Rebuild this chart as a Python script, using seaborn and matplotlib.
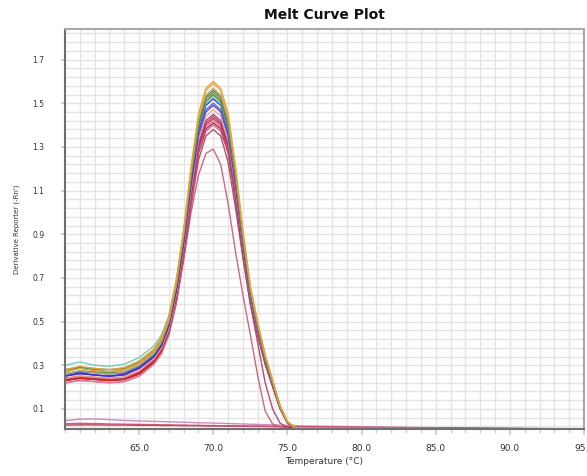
import numpy as np
import pandas as pd
import matplotlib
matplotlib.use("Agg")
import matplotlib.pyplot as plt
import matplotlib.ticker as mticker
import seaborn as sns

# temperature points (deg C)
temperature = [60, 61, 62, 63, 64, 65, 66, 66.5, 67, 67.5, 68, 68.5, 69, 69.5, 70,
               70.5, 71, 71.5, 72, 72.5, 73, 73.5, 74, 74.5, 75, 75.5, 76, 80, 85, 90, 95]

# derivative reporter per well
well_a01 = [0.27, 0.285, 0.275, 0.27, 0.28, 0.31, 0.366, 0.419, 0.515, 0.685, 0.919, 1.206, 1.451, 1.568, 1.60,
            1.568, 1.453, 1.211, 0.916, 0.663, 0.495, 0.347, 0.232, 0.116, 0.042, 0.016, 0.012, 0.010, 0.010, 0.008, 0.006]
well_a02 = [0.28, 0.295, 0.285, 0.28, 0.29, 0.32, 0.374, 0.427, 0.521, 0.689, 0.919, 1.202, 1.443, 1.559, 1.59,
            1.559, 1.443, 1.203, 0.910, 0.659, 0.492, 0.345, 0.230, 0.115, 0.041, 0.015, 0.012, 0.011, 0.010, 0.008, 0.006]
well_a03 = [0.26, 0.275, 0.265, 0.26, 0.27, 0.30, 0.354, 0.407, 0.501, 0.669, 0.899, 1.182, 1.423, 1.539, 1.57,
            1.539, 1.425, 1.188, 0.899, 0.651, 0.486, 0.341, 0.227, 0.114, 0.040, 0.015, 0.012, 0.010, 0.009, 0.008, 0.006]
well_a04 = [0.27, 0.29, 0.28, 0.27, 0.28, 0.31, 0.363, 0.414, 0.507, 0.672, 0.900, 1.178, 1.416, 1.529, 1.56,
            1.529, 1.416, 1.180, 0.893, 0.646, 0.482, 0.339, 0.226, 0.113, 0.041, 0.016, 0.012, 0.010, 0.010, 0.008, 0.006]
well_a05 = [0.28, 0.29, 0.285, 0.28, 0.285, 0.315, 0.371, 0.422, 0.514, 0.676, 0.900, 1.174, 1.408, 1.520, 1.55,
            1.519, 1.407, 1.173, 0.887, 0.642, 0.479, 0.337, 0.224, 0.112, 0.040, 0.015, 0.012, 0.011, 0.010, 0.008, 0.006]
well_a06 = [0.26, 0.275, 0.27, 0.265, 0.27, 0.30, 0.352, 0.403, 0.496, 0.659, 0.885, 1.161, 1.397, 1.509, 1.54,
            1.509, 1.398, 1.165, 0.881, 0.638, 0.476, 0.334, 0.223, 0.111, 0.039, 0.015, 0.012, 0.010, 0.009, 0.008, 0.006]
well_b01 = [0.30, 0.315, 0.30, 0.295, 0.305, 0.335, 0.389, 0.438, 0.526, 0.684, 0.900, 1.166, 1.392, 1.500, 1.53,
            1.500, 1.389, 1.158, 0.876, 0.634, 0.473, 0.332, 0.221, 0.111, 0.041, 0.016, 0.013, 0.011, 0.010, 0.008, 0.006]
well_b02 = [0.25, 0.265, 0.255, 0.25, 0.26, 0.29, 0.341, 0.392, 0.484, 0.646, 0.870, 1.144, 1.378, 1.490, 1.52,
            1.49, 1.38, 1.15, 0.87, 0.63, 0.47, 0.33, 0.22, 0.11, 0.039, 0.015, 0.012, 0.010, 0.010, 0.008, 0.006]
well_b03 = [0.26, 0.27, 0.265, 0.26, 0.265, 0.295, 0.349, 0.399, 0.488, 0.647, 0.865, 1.133, 1.361, 1.470, 1.50,
            1.470, 1.362, 1.135, 0.859, 0.622, 0.464, 0.326, 0.217, 0.109, 0.038, 0.015, 0.012, 0.010, 0.009, 0.008, 0.006]
well_b04 = [0.25, 0.26, 0.255, 0.25, 0.255, 0.285, 0.339, 0.389, 0.478, 0.637, 0.855, 1.123, 1.351, 1.460, 1.49,
            1.460, 1.352, 1.127, 0.853, 0.617, 0.461, 0.323, 0.216, 0.108, 0.038, 0.015, 0.012, 0.010, 0.009, 0.008, 0.006]
well_b05 = [0.24, 0.25, 0.245, 0.24, 0.245, 0.275, 0.329, 0.378, 0.466, 0.624, 0.840, 1.106, 1.332, 1.440, 1.47,
            1.441, 1.334, 1.112, 0.841, 0.609, 0.454, 0.319, 0.213, 0.106, 0.037, 0.015, 0.012, 0.010, 0.009, 0.008, 0.006]
well_b06 = [0.25, 0.265, 0.255, 0.25, 0.255, 0.285, 0.336, 0.384, 0.471, 0.624, 0.836, 1.095, 1.316, 1.421, 1.45,
            1.421, 1.317, 1.097, 0.830, 0.601, 0.448, 0.315, 0.210, 0.105, 0.037, 0.015, 0.012, 0.010, 0.009, 0.008, 0.006]
well_c01 = [0.23, 0.24, 0.235, 0.23, 0.235, 0.26, 0.317, 0.366, 0.453, 0.608, 0.820, 1.082, 1.304, 1.411, 1.44,
            1.411, 1.307, 1.089, 0.824, 0.597, 0.445, 0.313, 0.208, 0.104, 0.037, 0.015, 0.012, 0.010, 0.009, 0.008, 0.006]
well_c02 = [0.24, 0.25, 0.245, 0.24, 0.245, 0.27, 0.326, 0.373, 0.459, 0.611, 0.821, 1.078, 1.297, 1.401, 1.43,
            1.402, 1.299, 1.082, 0.819, 0.593, 0.442, 0.311, 0.207, 0.104, 0.036, 0.015, 0.012, 0.010, 0.009, 0.008, 0.006]
well_c03 = [0.22, 0.23, 0.225, 0.22, 0.225, 0.25, 0.306, 0.354, 0.441, 0.594, 0.806, 1.065, 1.286, 1.391, 1.42,
            1.392, 1.289, 1.074, 0.813, 0.588, 0.439, 0.308, 0.205, 0.103, 0.036, 0.015, 0.012, 0.010, 0.009, 0.008, 0.006]
well_c04 = [0.23, 0.24, 0.235, 0.23, 0.235, 0.26, 0.315, 0.362, 0.447, 0.598, 0.806, 1.061, 1.278, 1.382, 1.41,
            1.383, 1.281, 1.067, 0.807, 0.585, 0.436, 0.306, 0.204, 0.102, 0.036, 0.015, 0.012, 0.010, 0.009, 0.008, 0.006]
well_c05 = [0.22, 0.23, 0.225, 0.22, 0.225, 0.25, 0.305, 0.352, 0.437, 0.588, 0.796, 1.051, 1.268, 1.372, 1.40,
            1.372, 1.271, 1.059, 0.801, 0.580, 0.433, 0.304, 0.203, 0.101, 0.036, 0.015, 0.012, 0.010, 0.009, 0.008, 0.006]
well_c06 = [0.23, 0.24, 0.235, 0.23, 0.235, 0.26, 0.31, 0.36, 0.44, 0.58, 0.78, 1.00, 1.17, 1.27, 1.29,
            1.22, 1.04, 0.82, 0.62, 0.44, 0.25, 0.09, 0.03, 0.018, 0.014, 0.012, 0.011, 0.010, 0.009, 0.008, 0.006]
well_d01 = [0.235, 0.245, 0.24, 0.235, 0.24, 0.265, 0.32, 0.365, 0.45, 0.59, 0.79, 1.03, 1.24, 1.35, 1.38,
            1.35, 1.23, 1.02, 0.79, 0.58, 0.40, 0.22, 0.10, 0.035, 0.015, 0.012, 0.011, 0.010, 0.009, 0.008, 0.006]
# no-template controls
well_d02 = [0.046, 0.053, 0.054, 0.051, 0.047, 0.045, 0.043, 0.042, 0.041, 0.040, 0.039, 0.038, 0.036, 0.036, 0.035,
            0.034, 0.033, 0.032, 0.031, 0.030, 0.029, 0.028, 0.027, 0.026, 0.025, 0.024, 0.022, 0.018, 0.014, 0.011, 0.008]
well_d03 = [0.026, 0.027, 0.027, 0.026, 0.026, 0.025, 0.025, 0.024, 0.024, 0.024, 0.023, 0.023, 0.023, 0.022, 0.022,
            0.022, 0.021, 0.021, 0.021, 0.020, 0.020, 0.020, 0.019, 0.019, 0.018, 0.018, 0.017, 0.015, 0.012, 0.010, 0.008]
well_d04 = [0.032, 0.034, 0.033, 0.031, 0.030, 0.029, 0.028, 0.027, 0.027, 0.026, 0.026, 0.025, 0.025, 0.024, 0.024,
            0.023, 0.023, 0.022, 0.022, 0.021, 0.021, 0.020, 0.020, 0.019, 0.019, 0.018, 0.018, 0.016, 0.013, 0.011, 0.009]

wells = {
    "D02": (well_d02, "#c77dbb"), "D03": (well_d03, "#b0304a"), "D04": (well_d04, "#d04a6a"),
    "C06": (well_c06, "#c8587a"), "D01": (well_d01, "#b03a5a"),
    "C05": (well_c05, "#d35d7b"), "C04": (well_c04, "#8b1c3c"), "C03": (well_c03, "#e8739a"),
    "C02": (well_c02, "#b5284f"), "C01": (well_c01, "#d62728"), "B06": (well_b06, "#8e44ad"),
    "B05": (well_b05, "#f4a08a"), "B04": (well_b04, "#6a3d9a"), "B03": (well_b03, "#4a55e0"),
    "B02": (well_b02, "#2233dd"), "B01": (well_b01, "#6cc5a8"), "A06": (well_a06, "#3d8b40"),
    "A05": (well_a05, "#a0703a"), "A04": (well_a04, "#2e8b3c"), "A03": (well_a03, "#c9a86a"),
    "A02": (well_a02, "#d9a441"), "A01": (well_a01, "#f0a030"),
}

df = pd.concat([pd.DataFrame({"temp": temperature, "deriv": v, "well": k})
                for k, (v, c) in wells.items()], ignore_index=True)
palette = {k: c for k, (v, c) in wells.items()}

sns.set_theme(style="white")
plt.rcParams['font.family'] = ['DejaVu Sans']

fig = plt.figure(figsize=(5.87, 4.76), dpi=100)
ax = fig.add_axes([65/587, 1 - 429/476, (584 - 65)/587, (429 - 29)/476])

sns.lineplot(data=df, x="temp", y="deriv", hue="well", palette=palette,
             hue_order=list(wells.keys()), estimator=None, legend=False,
             linewidth=1.0, alpha=0.9, ax=ax)

ax.set_xlim(60, 95)
ax.set_ylim(0.008, 1.84)
ax.set_xticks([65, 70, 75, 80, 85, 90, 95])
ax.set_xticklabels(["65.0", "70.0", "75.0", "80.0", "85.0", "90.0", "95.0"])
ax.set_yticks([0.1, 0.3, 0.5, 0.7, 0.9, 1.1, 1.3, 1.5, 1.7])
ax.set_yticklabels(["0.1", "0.3", "0.5", "0.7", "0.9", "1.1", "1.3", "1.5", "1.7"])
ax.xaxis.set_minor_locator(mticker.MultipleLocator(1))
ax.yaxis.set_minor_locator(mticker.FixedLocator(np.arange(0.02, 1.84, 0.04)))
ax.grid(which="minor", color="#e4e4e4", linewidth=1.0)
ax.grid(which="major", color="#e4e4e4", linewidth=1.0)
ax.set_axisbelow(True)

ax.tick_params(axis="x", which="major", labelsize=6.5, colors="#cccccc", labelcolor="#333333",
               length=4, pad=7, bottom=True)
ax.tick_params(axis="x", which="minor", colors="#cccccc", length=3, bottom=True)
ax.tick_params(axis="y", which="major", labelsize=5.5, colors="#cccccc", labelcolor="#333333",
               length=3, pad=12, left=True)
ax.tick_params(axis="y", which="minor", length=0)

for side in ["left", "bottom"]:
    ax.spines[side].set_color("#707070")
    ax.spines[side].set_linewidth(1.5)
for side in ["top", "right"]:
    ax.spines[side].set_color("#a8a8a8")
    ax.spines[side].set_linewidth(1.5)

ax.set_xlabel("Temperature (°C)", fontsize=6.5, color="#333333", labelpad=3)
ax.set_ylabel("Derivative Reporter (-Rn')", fontsize=5, color="#333333", labelpad=9)
ax.set_title("Melt Curve Plot", fontsize=10, fontweight="bold", color="#111111", pad=7)

fig.savefig("out.png", dpi=100)
